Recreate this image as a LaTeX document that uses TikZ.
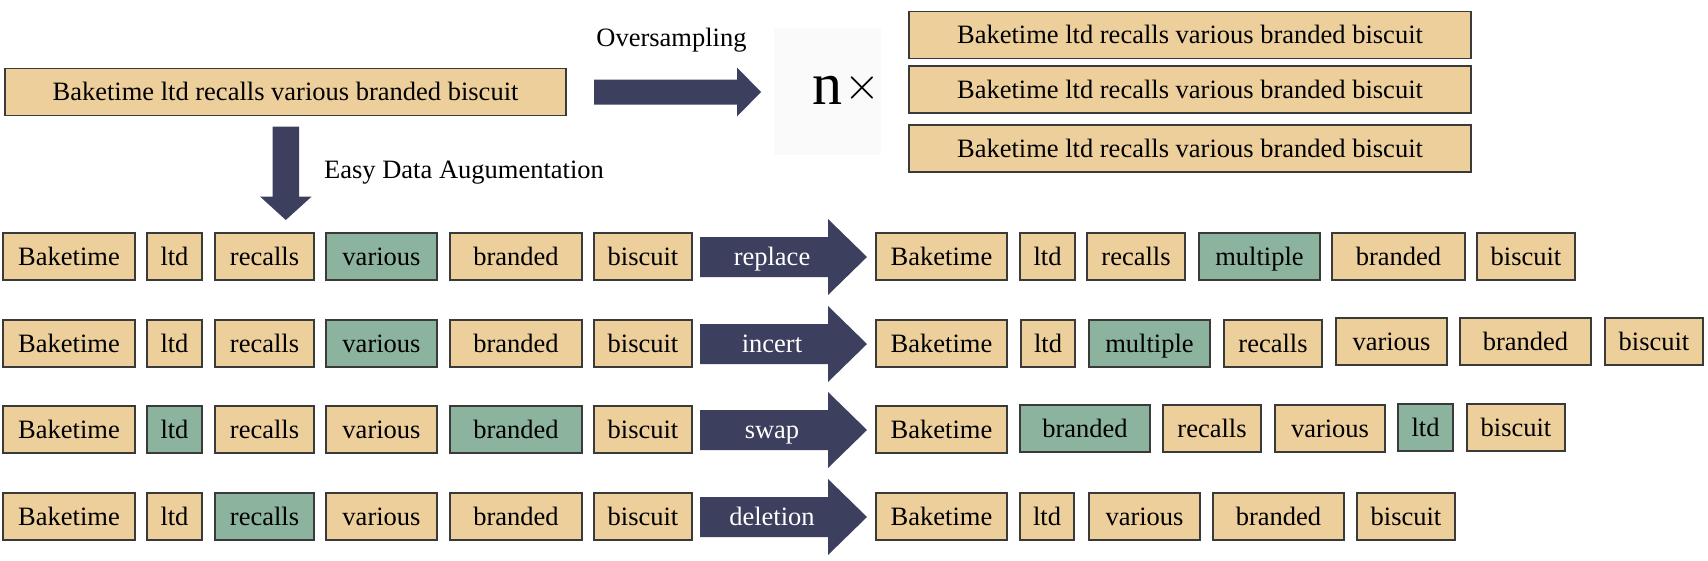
\documentclass[tikz,border=0pt]{standalone}
\usepackage{fontspec}
\setmainfont{Liberation Serif}
\newfontfamily\serifw{Liberation Serif}
\newfontfamily\lmr{lmroman10-regular}[Extension=.otf]
\definecolor{beige}{HTML}{EDCF9B}
\definecolor{sage}{HTML}{8CB39E}
\definecolor{navy}{HTML}{3C3F5D}
\definecolor{bord}{HTML}{3A3A3A}
\definecolor{faint}{HTML}{FAFAFA}
\newcommand\wfont{\serifw\fontsize{26.5}{30}\selectfont}
% #1 name, #2 style, #3 x1, #4 x2, #5 y1, #6 y2, #7 text
\newcommand\tok[7]{\node[#2, minimum width={(#4-#3)*1pt}, minimum height={(#6-#5)*1pt}] (#1) at ({(#3+#4)/2},{(#5+#6)/2}) {#7};}
% #1 centre y, #2 name, #3 label
\newcommand\fatarrow[3]{%
  \fill[navy] (700,{#1-20}) -- (828,{#1-20}) -- (828,{#1-38}) -- (867,#1) -- (828,{#1+38}) -- (828,{#1+20}) -- (700,{#1+20}) -- cycle;
  \node[alabel] (#2) at (772,#1) {#3};}
\begin{document}
\begin{tikzpicture}[x=1pt,y=-1pt,
  tok/.style={draw=bord, line width=1.2pt, inner sep=0pt, outer sep=0pt, text height=17.5pt, text depth=0pt, font=\wfont, text=black},
  tan/.style={tok, fill=beige},
  grn/.style={tok, fill=sage},
  alabel/.style={inner sep=0pt, text height=17.5pt, text depth=0pt, font=\wfont, text=white},
  plain/.style={inner sep=0pt, font=\wfont, text=black}]
\useasboundingbox[fill=white] (0,0) rectangle (1708,560);

% top sentence
\tok{top}{tan}{5}{566}{68.5}{115.5}{Baketime ltd recalls various branded biscuit}

% oversampling arrow
\fill[navy] (594,79.5) -- (737,79.5) -- (737,67.5) -- (761,92) -- (737,116.5) -- (737,104.5) -- (594,104.5) -- cycle;
\node[plain] (over) at (671.5,40) {Oversampling};

% n x
\fill[faint] (774,28) rectangle (881,155);
\node[anchor=base, inner sep=0pt, font=\serifw\fontsize{60}{60}\selectfont] (nn) at (827.5,104) {n};
\node[inner sep=0pt, font=\lmr\fontsize{46}{46}\selectfont] (times) at (862.5,87.5) {×};

% copies
\tok{c1}{tan}{909}{1471}{11.5}{58.5}{Baketime ltd recalls various branded biscuit}
\tok{c2}{tan}{909}{1471}{66}{113}{Baketime ltd recalls various branded biscuit}
\tok{c3}{tan}{909}{1471}{125}{172}{Baketime ltd recalls various branded biscuit}

% EDA arrow
\fill[navy] (272.7,126.5) -- (299,126.5) -- (299,196.5) -- (311.7,196.5) -- (285.8,220) -- (260,196.5) -- (272.7,196.5) -- cycle;
\node[plain, anchor=west] (eda) at (324,173) {Easy Data Augumentation};

% left rows
\tok{La1}{tan}{3}{135}{233}{280}{Baketime}
\tok{Lb1}{tan}{147}{202}{233}{280}{ltd}
\tok{Lc1}{tan}{215}{314}{233}{280}{recalls}
\tok{Ld1}{grn}{326}{437}{233}{280}{various}
\tok{Le1}{tan}{450}{582}{233}{280}{branded}
\tok{Lf1}{tan}{594}{692}{233}{280}{biscuit}

\tok{La2}{tan}{3}{135}{320}{367}{Baketime}
\tok{Lb2}{tan}{147}{202}{320}{367}{ltd}
\tok{Lc2}{tan}{215}{314}{320}{367}{recalls}
\tok{Ld2}{grn}{326}{437}{320}{367}{various}
\tok{Le2}{tan}{450}{582}{320}{367}{branded}
\tok{Lf2}{tan}{594}{692}{320}{367}{biscuit}

\tok{La3}{tan}{3}{135}{406}{453}{Baketime}
\tok{Lb3}{grn}{147}{202}{406}{453}{ltd}
\tok{Lc3}{tan}{215}{314}{406}{453}{recalls}
\tok{Ld3}{tan}{326}{437}{406}{453}{various}
\tok{Le3}{grn}{450}{582}{406}{453}{branded}
\tok{Lf3}{tan}{594}{692}{406}{453}{biscuit}

\tok{La4}{tan}{3}{135}{493}{540}{Baketime}
\tok{Lb4}{tan}{147}{202}{493}{540}{ltd}
\tok{Lc4}{grn}{215}{314}{493}{540}{recalls}
\tok{Ld4}{tan}{326}{437}{493}{540}{various}
\tok{Le4}{tan}{450}{582}{493}{540}{branded}
\tok{Lf4}{tan}{594}{692}{493}{540}{biscuit}

% operation arrows
\fatarrow{257}{op1}{replace}
\fatarrow{344}{op2}{incert}
\fatarrow{430}{op3}{swap}
\fatarrow{517}{op4}{deletion}

% right rows
\tok{Ra1}{tan}{876}{1007}{233}{280}{Baketime}
\tok{Rb1}{tan}{1020}{1075}{233}{280}{ltd}
\tok{Rc1}{tan}{1087}{1185}{233}{280}{recalls}
\tok{Rd1}{grn}{1199}{1320}{233}{280}{multiple}
\tok{Re1}{tan}{1332}{1465}{233}{280}{branded}
\tok{Rf1}{tan}{1477}{1575}{233}{280}{biscuit}

\tok{Ra2}{tan}{876}{1007}{320}{367}{Baketime}
\tok{Rb2}{tan}{1021}{1075}{320}{367}{ltd}
\tok{Rc2}{grn}{1089}{1210}{320}{367}{multiple}
\tok{Rd2}{tan}{1224}{1322}{320}{367}{recalls}
\tok{Re2}{tan}{1336}{1447}{318}{365}{various}
\tok{Rf2}{tan}{1460}{1591}{318}{365}{branded}
\tok{Rg2}{tan}{1605}{1703}{318}{365}{biscuit}

\tok{Ra3}{tan}{876}{1007}{406}{453}{Baketime}
\tok{Rb3}{grn}{1020}{1150}{405}{452}{branded}
\tok{Rc3}{tan}{1163}{1261}{405}{452}{recalls}
\tok{Rd3}{tan}{1275}{1385}{405}{452}{various}
\tok{Re3}{grn}{1398}{1453}{404}{451}{ltd}
\tok{Rf3}{tan}{1467}{1565}{404}{451}{biscuit}

\tok{Ra4}{tan}{876}{1007}{493}{540}{Baketime}
\tok{Rb4}{tan}{1020}{1074}{493}{540}{ltd}
\tok{Rc4}{tan}{1089}{1200}{493}{540}{various}
\tok{Rd4}{tan}{1213}{1344}{493}{540}{branded}
\tok{Re4}{tan}{1357}{1455}{493}{540}{biscuit}
\end{tikzpicture}
\end{document}
